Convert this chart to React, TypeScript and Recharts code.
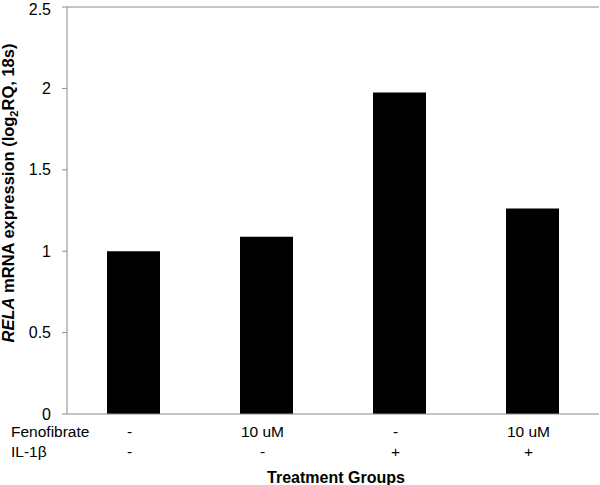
import React from 'react'
import { BarChart, Bar, XAxis, YAxis, Label, ReferenceLine } from 'recharts'

// values
const groups = ['control', 'fenofibrate', 'il1b', 'fenofibrate+il1b']
const fenofibrate = ['-', '10 uM', '-', '10 uM']
const il1b = ['-', '-', '+', '+']
const expression = [1.0, 1.089, 1.975, 1.262]
const yTicks = [0, 0.5, 1, 1.5, 2, 2.5]
const groupBounds = [1, 2, 3]

const font = '"Liberation Sans", Arial, sans-serif'
const axisGrey = '#8a8a8a'

const data = groups.map((g, i) => ({
  group: g,
  fenofibrate: fenofibrate[i],
  il1b: il1b[i],
  value: expression[i],
}))

function GroupTick(props: any) {
  const { x, y, index } = props
  return (
    <g fontFamily={font} fontSize={15.5} fill="#000">
      {index === 0 && (
        <>
          <text x={11} y={y + 23} fill="#000">Fenofibrate</text>
          <text x={11} y={y + 43} fill="#000">IL-1β</text>
        </>
      )}
      <text x={x - 4} y={y + 23} textAnchor="middle" fill="#000">{fenofibrate[index]}</text>
      <text x={x - 4} y={y + 43} textAnchor="middle" fill="#000">{il1b[index]}</text>
    </g>
  )
}

function YTitle() {
  return (
    <text
      x={14}
      y={193}
      transform="rotate(-90, 14, 193)"
      textAnchor="middle"
      fontFamily={font}
      fontSize={16.5}
      fontWeight="bold"
      fill="#000"
    >
      <tspan fontStyle="italic">RELA</tspan>
      <tspan> mRNA expression (log</tspan>
      <tspan fontSize={11} dy={4}>2</tspan>
      <tspan dy={-4}>RQ, 18s)</tspan>
    </text>
  )
}

export default function App() {
  return (
    <div style={{ position: 'absolute', left: 0, top: 0, background: '#fff' }}>
      <BarChart
        width={600}
        height={485}
        data={data}
        margin={{ top: 6, right: 1, bottom: 0, left: 0 }}
      >
        <XAxis
          xAxisId="top"
          dataKey="group"
          orientation="top"
          height={1}
          tick={false}
          tickLine={false}
          axisLine={{ stroke: axisGrey }}
        />
        <XAxis
          xAxisId="bounds"
          type="number"
          domain={[0, 4]}
          ticks={groupBounds}
          height={1}
          mirror
          tick={false}
          tickSize={5}
          tickLine={{ stroke: axisGrey }}
          axisLine={{ stroke: axisGrey }}
        />
        <XAxis
          xAxisId="cat"
          dataKey="group"
          height={71}
          axisLine={false}
          tickLine={false}
          tickSize={0}
          tickMargin={0}
          interval={0}
          tick={<GroupTick />}
        >
          <Label
            value="Treatment Groups"
            position="insideBottom"
            offset={2}
            dx={3}
            style={{ fontFamily: font, fontSize: 16, fontWeight: 'bold', fill: '#000' }}
          />
        </XAxis>
        <YAxis
          yAxisId="left"
          domain={[0, 2.5]}
          ticks={yTicks}
          width={67}
          tickSize={5}
          tickMargin={11}
          axisLine={{ stroke: axisGrey }}
          tickLine={{ stroke: axisGrey }}
          tick={{ fontFamily: font, fontSize: 16, fill: '#000' }}
          label={<YTitle />}
        />
        <ReferenceLine xAxisId="bounds" yAxisId="left" x={4} stroke="#333" strokeWidth={1.5} />
        <Bar
          xAxisId="cat"
          yAxisId="left"
          dataKey="value"
          fill="#000"
          barSize={53}
          isAnimationActive={false}
        />
      </BarChart>
    </div>
  )
}
